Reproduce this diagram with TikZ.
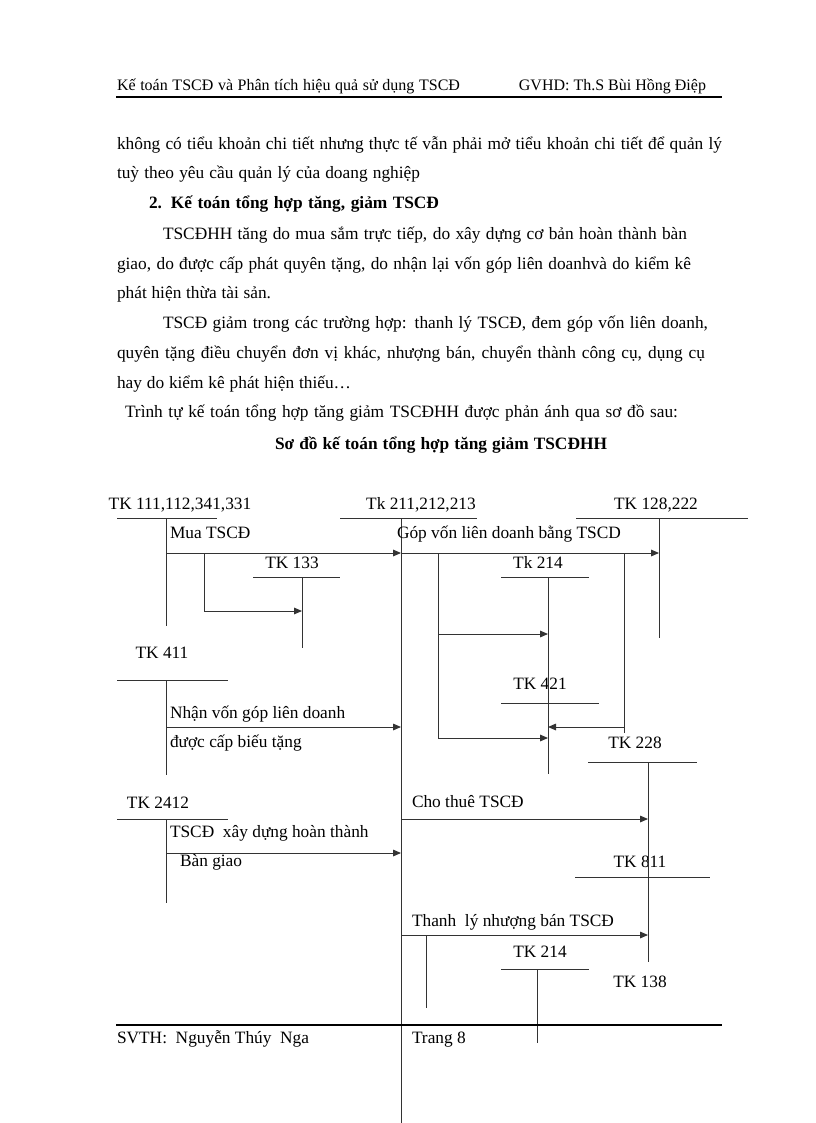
\documentclass[tikz,border=0pt]{standalone}
\usepackage{fontspec}
\setmainfont{Liberation Serif}
\usetikzlibrary{arrows.meta}
\newcommand\jline[2]{\makebox[\dimexpr #1pt*3/4\relax][s]{#2}}
\tikzset{
  txt/.style={anchor=base west,inner sep=0pt,outer sep=0pt,font=\fontsize{13}{15}\selectfont},
  txtc/.style={anchor=base,inner sep=0pt,outer sep=0pt,font=\fontsize{13}{15}\selectfont},
  hdr/.style={anchor=base west,inner sep=0pt,outer sep=0pt,font=\fontsize{12}{14}\selectfont},
  ln/.style={line width=0.75pt,draw=black!80},
  arr/.style={ln,-{Triangle[length=6pt,width=5pt]}},
  rule/.style={line width=1.6pt},
}
\begin{document}
\begin{tikzpicture}[x=0.75pt,y=-0.75pt]
\useasboundingbox (0,0) rectangle (816,1123);
% header
\node[hdr] (h1) at (117,91) {\jline{343}{Kế toán TSCĐ và Phân tích hiệu quả sử dụng TSCĐ}};
\node[hdr,anchor=base east] (h2) at (706,91) {GVHD: Th.S Bùi Hồng Điệp};
\coordinate (hl) at (116,97); \coordinate (hr) at (722,97);
\draw[rule] (hl) -- (hr);
% body text
\node[txt] (p1) at (117,150) {\jline{605}{không có tiểu khoản chi tiết nhưng thực tế vẫn phải mở tiểu khoản chi tiết để quản lý}};
\node[txt] (p2) at (117,179) {\jline{303}{tuỳ theo yêu cầu quản lý của doang nghiệp}};
\node[txt,font=\fontsize{13}{15}\selectfont\bfseries] (p3) at (149,209) {\jline{290}{2. Kế toán tổng hợp tăng, giảm TSCĐ}};
\node[txt] (p4) at (163,239) {\jline{524}{TSCĐHH  tăng do mua sắm trực tiếp, do xây dựng cơ bản hoàn thành bàn}};
\node[txt] (p5) at (117,269) {\jline{574}{giao, do được cấp phát quyên tặng, do nhận lại vốn góp liên doanhvà  do kiểm kê}};
\node[txt] (p6) at (117,298) {\jline{154}{phát  hiện thừa tài sản.}};
\node[txt] (p7) at (163,328) {\jline{545}{TSCĐ  giảm trong các trường hợp: thanh lý TSCĐ, đem góp vốn liên doanh,}};
\node[txt] (p8) at (117,358) {\jline{588}{quyên tặng điều chuyển đơn vị khác, nhượng bán, chuyển thành công cụ, dụng cụ}};
\node[txt] (p9) at (117,388) {\jline{234}{hay  do kiểm kê phát hiện thiếu…}};
\node[txt] (p10) at (125,417) {\jline{553}{Trình tự kế toán tổng hợp tăng giảm TSCĐHH  được phản ánh qua sơ đồ sau:}};
\node[txtc,font=\fontsize{13}{15}\selectfont\bfseries] (title) at (441,449) {\jline{332}{Sơ đồ kế toán tổng hợp  tăng giảm TSCĐHH}};
% account labels
\node[txtc] (tA) at (180,509) {TK~111,112,341,331};
\node[txtc] (tM) at (421,509) {Tk 211,212,213};
\node[txtc] (tC) at (656,509) {TK 128,222};
\node[txtc] (tD) at (292,568) {TK 133};
\node[txtc] (tE) at (538,568) {Tk 214};
\node[txtc] (tG) at (162,658) {TK 411};
\node[txtc] (tF) at (540,689) {TK 421};
\node[txtc] (tH) at (635,748) {TK 228};
\node[txtc] (tI) at (158,808) {TK 2412};
\node[txtc] (tJ) at (640,867) {TK 811};
\node[txtc] (tK) at (540,957) {TK 214};
\node[txtc] (tL) at (640,987) {TK 138};
% T-account coordinates
\coordinate (Al) at (117,518); \coordinate (Ar) at (217,518);
\coordinate (At) at (166,518); \coordinate (Ab) at (166,626);
\coordinate (Ml) at (340,518); \coordinate (Mr) at (477,518);
\coordinate (Mt) at (401,518); \coordinate (Mb) at (401,1123);
\coordinate (Cl) at (576,518); \coordinate (Cr) at (748,518);
\coordinate (Ct) at (659,518); \coordinate (Cb) at (659,638);
\coordinate (Dl) at (253,577); \coordinate (Dr) at (340,577);
\coordinate (Dt) at (302,577); \coordinate (Db) at (302,648);
\coordinate (El) at (501,577); \coordinate (Er) at (589,577);
\coordinate (Et) at (548,577); \coordinate (Eb) at (548,774);
\coordinate (Fl) at (501,703); \coordinate (Fr) at (599,703);
\coordinate (Gl) at (117,680); \coordinate (Gr) at (228,680);
\coordinate (Gt) at (166,680); \coordinate (Gb) at (166,775);
\coordinate (Hl) at (588,762); \coordinate (Hr) at (697,762);
\coordinate (Ht) at (648,762); \coordinate (Hb) at (648,962);
\coordinate (Il) at (117,819); \coordinate (Ir) at (228,819);
\coordinate (It) at (166,819); \coordinate (Ib) at (166,903);
\coordinate (Jl) at (575,877); \coordinate (Jr) at (710,877);
\coordinate (Kl) at (501,969); \coordinate (Kr) at (589,969);
\coordinate (Kt) at (537,969); \coordinate (Kb) at (537,1043);
\foreach \a in {A,M,C,D,E,G,H,I,K} {\draw[ln] (\a l) -- (\a r); \draw[ln] (\a t) -- (\a b);}
\draw[ln] (Fl) -- (Fr);
\draw[ln] (Jl) -- (Jr);
% flows
\coordinate (a1) at (166,553);
\draw[arr] (a1) -- (a1 -| Mt);
\node[txt] (l1) at (170,538) {Mua TSCĐ};
\draw[arr] (a1 -| Mt) -- (a1 -| Ct);
\node[txt] (l2) at (397,538) {Góp vốn liên doanh bằng TSCD};
\coordinate (b1) at (204,553); \coordinate (b2) at (204,611);
\draw[arr] (b1) -- (b2) -- (b2 -| Dt);
\coordinate (c1) at (438,553); \coordinate (c2) at (438,634); \coordinate (c3) at (438,738);
\draw[ln] (c1) -- (c3);
\draw[arr] (c2) -- (c2 -| Et);
\draw[arr] (c3) -- (c3 -| Et);
\coordinate (d1) at (624,553); \coordinate (d2) at (624,733); \coordinate (d3) at (624,727);
\draw[ln] (d1) -- (d2);
\draw[arr] (d3) -- (d3 -| Et);
\coordinate (e1) at (166,727);
\draw[arr] (e1) -- (e1 -| Mt);
\node[txt] (l3) at (170,718) {Nhận vốn góp liên doanh};
\node[txt] (l4) at (170,747) {được cấp biếu tặng};
\coordinate (f1) at (401,819);
\draw[arr] (f1) -- (f1 -| Ht);
\node[txt] (l5) at (412,807) {Cho thuê TSCĐ};
\coordinate (g1) at (166,853);
\draw[arr] (g1) -- (g1 -| Mt);
\node[txt] (l6) at (170,837) {TSCĐ~ xây dựng hoàn thành};
\node[txt] (l7) at (180,866) {Bàn giao};
\coordinate (i1) at (401,935);
\draw[arr] (i1) -- (i1 -| Ht);
\node[txt] (l8) at (412,926) {Thanh~ lý nhượng bán TSCĐ};
\coordinate (j1) at (426,935); \coordinate (j2) at (426,1008);
\draw[ln] (j1) -- (j2);
% footer
\coordinate (fl) at (116,1025); \coordinate (fr) at (722,1025);
\draw[rule] (fl) -- (fr);
\node[txt] (s1) at (117,1043) {SVTH:~ Nguyễn Thúy~ Nga};
\node[txt] (s2) at (412,1043) {Trang 8};
\end{tikzpicture}
\end{document}
